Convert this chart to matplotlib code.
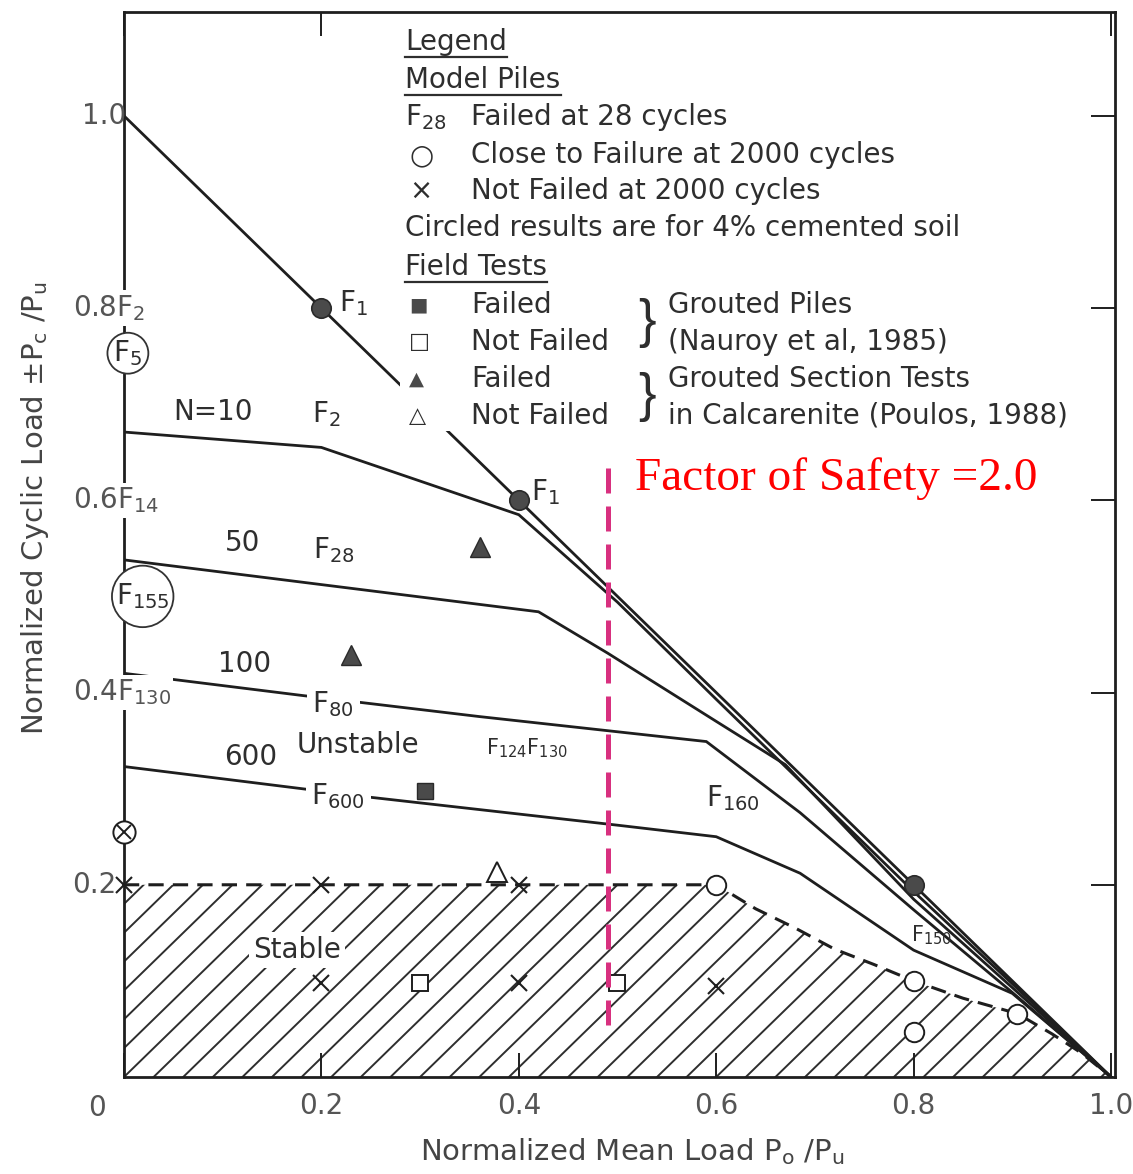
import numpy as np
import matplotlib.pyplot as plt
from matplotlib.patches import Polygon, Rectangle

plt.rcParams['font.family'] = ['DejaVu Sans']
plt.rcParams['mathtext.default'] = 'regular'

ink = '#1e1e1e'
txt = '#2e2e2e'

# normalized cyclic load Pc/Pu against normalized mean load Po/Pu
static_x = [0.0, 1.0]
static_y = [1.0, 0.0]

n10_x = [0.0, 0.20, 0.38, 0.40, 0.50, 0.60, 0.80, 0.90, 1.0]
n10_y = [0.671, 0.655, 0.592, 0.585, 0.494, 0.393, 0.193, 0.097, 0.0]

n50_x = [0.0, 0.42, 0.49, 0.60, 0.67, 0.80, 0.90, 1.0]
n50_y = [0.538, 0.484, 0.441, 0.370, 0.325, 0.185, 0.093, 0.0]

n100_x = [0.0, 0.18, 0.36, 0.59, 0.685, 0.80, 0.90, 1.0]
n100_y = [0.420, 0.397, 0.375, 0.349, 0.275, 0.174, 0.088, 0.0]

n600_x = [0.0, 0.18, 0.25, 0.50, 0.60, 0.685, 0.80, 0.90, 1.0]
n600_y = [0.323, 0.300, 0.291, 0.262, 0.250, 0.212, 0.132, 0.087, 0.0]

# boundary of the stable zone
stable_x = [0.0, 0.60, 0.64, 0.68, 0.72, 0.76, 0.80, 0.85, 0.905, 0.94, 0.97, 1.0]
stable_y = [0.20, 0.20, 0.175, 0.155, 0.133, 0.117, 0.100, 0.082, 0.066, 0.045, 0.025, 0.0]

# model piles
failed_x = [0.2, 0.4, 0.8]
failed_y = [0.8, 0.6, 0.2]
close_x = [0.6, 0.8, 0.8, 0.905]
close_y = [0.2, 0.1, 0.047, 0.066]
notfailed_x = [0.0, 0.2, 0.4, 0.2, 0.4, 0.6]
notfailed_y = [0.2, 0.2, 0.2, 0.098, 0.098, 0.095]
cemented_x = [0.0]
cemented_y = [0.255]

# field tests
grout_fail_x = [0.305]
grout_fail_y = [0.298]
grout_ok_x = [0.30, 0.50]
grout_ok_y = [0.098, 0.098]
section_fail_x = [0.361, 0.23]
section_fail_y = [0.551, 0.439]
section_ok_x = [0.378]
section_ok_y = [0.213]

fos_x = 0.49
fos_y = [0.054, 0.637]

xticks = [0.0, 0.2, 0.4, 0.6, 0.8, 1.0]
xtick_labels = ['', '0.2', '0.4', '0.6', '0.8', '1.0']
yticks = [0.2, 0.4, 0.6, 0.8, 1.0]
ytick_labels = ['0.2', '0.4F$_{130}$', '0.6F$_{14}$', '0.8F$_2$', '1.0']

fig = plt.figure(figsize=(11.33, 11.74), dpi=100)
ax = fig.add_axes([0.1094, 0.0826, 0.8747, 0.9072])
ax.set_xlim(0, 1.004)
ax.set_ylim(0, 1.108)

for s in ax.spines.values():
    s.set_linewidth(2.0)
    s.set_color(ink)

ax.set_xticks(xticks)
ax.set_xticklabels(xtick_labels)
ax.set_yticks(yticks)
ax.set_yticks([1.0], minor=True)
ax.tick_params(direction='in', length=17, width=1.4, color=ink, top=True, right=True,
               left=False, labelleft=False, labelsize=20, labelcolor='#555555', pad=11)
ax.tick_params(axis='y', which='minor', direction='in', length=17, width=1.4, color=ink,
               left=True, right=False, labelleft=False)
ax.text(-0.027, -0.016, '0', transform=ax.get_xaxis_transform(), ha='center', va='top',
        fontsize=20, color='#555555')
for v, lab in zip(yticks, ytick_labels):
    x0 = -0.042 if v == 1.0 else -0.052
    bb = None if v in (1.0, 0.2) else dict(fc='white', ec='none', pad=2)
    ax.text(x0, v, lab, ha='left', va='center', fontsize=20, color='#555555',
            bbox=bb, clip_on=False, zorder=3)

# stable zone with diagonal hatching
stab = Polygon(np.column_stack([stable_x + [1.0, 0.0], stable_y + [0.0, 0.0]]),
               closed=True, fc='none', ec='none')
ax.add_patch(stab)
for c in np.arange(-0.3, 1.0, 0.03):
    h, = ax.plot([c, c + 0.4], [0, 0.4], color='#2e2e2e', lw=1.4, zorder=1)
    h.set_clip_path(stab)
ax.plot(stable_x, stable_y, color=ink, lw=2.2, ls=(0, (5, 3)), zorder=2)

for xs, ys in [(static_x, static_y), (n10_x, n10_y), (n50_x, n50_y),
               (n100_x, n100_y), (n600_x, n600_y)]:
    ax.plot(xs, ys, color=ink, lw=2.0, zorder=2, solid_joinstyle='miter')

# legend block sits on a white panel
ax.add_patch(Rectangle((0.28, 0.672), 0.65, 0.45, fc='white', ec='none', zorder=2.5))

mk = dict(ls='none', zorder=4, clip_on=False)
ax.plot(failed_x, failed_y, marker='o', ms=14, mfc='#4a4a4a', mec='#2a2a2a', mew=1.2, **mk)
ax.plot(close_x, close_y, marker='o', ms=14, mfc='white', mec=ink, mew=1.4, **mk)
ax.plot(notfailed_x, notfailed_y, marker='x', ms=11, mec=ink, mew=1.5, **mk)
ax.plot(cemented_x, cemented_y, marker='o', ms=16, mfc='white', mec=ink, mew=1.4, **mk)
ax.plot(cemented_x, cemented_y, marker='x', ms=10, mec=ink, mew=1.4, **mk)
ax.plot(grout_fail_x, grout_fail_y, marker='s', ms=12, mfc='#4a4a4a', mec='#2a2a2a', **mk)
ax.plot(grout_ok_x, grout_ok_y, marker='s', ms=12, mfc='white', mec=ink, mew=1.4, **mk)
ax.plot(section_fail_x, section_fail_y, marker='^', ms=14, mfc='#4a4a4a', mec='#2a2a2a', **mk)
ax.plot(section_ok_x, section_ok_y, marker='^', ms=15, mfc='white', mec=ink, mew=1.4, **mk)

ax.plot([fos_x, fos_x], fos_y, color='#d8307f', lw=3.6, ls=(0, (5, 2.6)), zorder=5)
ax.text(0.518, 0.623, 'Factor of Safety =2.0', color='red', fontsize=34,
        family='Liberation Serif', ha='left', va='center', zorder=5)

# curve labels
lab = dict(fontsize=20, color=txt, ha='center', va='center')
white = dict(fc='white', ec='none', pad=4)
ax.text(0.218, 0.805, 'F$_1$', ha='left', va='center', fontsize=20, color=txt)
ax.text(0.412, 0.608, 'F$_1$', ha='left', va='center', fontsize=20, color=txt)
ax.text(0.09, 0.692, 'N=10', **lab)
ax.text(0.205, 0.690, 'F$_2$', **lab)
ax.text(0.12, 0.556, '50', **lab)
ax.text(0.213, 0.548, 'F$_{28}$', **lab)
ax.text(0.122, 0.430, '100', **lab)
ax.text(0.212, 0.388, 'F$_{80}$', bbox=white, zorder=3, **lab)
ax.text(0.128, 0.333, '600', **lab)
ax.text(0.237, 0.345, 'Unstable', **lab)
ax.text(0.217, 0.292, 'F$_{600}$', bbox=white, zorder=3, **lab)
ax.text(0.408, 0.342, 'F$_{124}$F$_{130}$', fontsize=15, color=txt, ha='center', va='center')
ax.text(0.617, 0.290, 'F$_{160}$', **lab)
ax.text(0.818, 0.148, 'F$_{150}$', fontsize=15, color=txt, ha='center', va='center', zorder=3)
ax.text(0.175, 0.132, 'Stable', bbox=dict(fc='white', ec='none', pad=3), zorder=3, **lab)

ax.text(0.004, 0.753, 'F$_5$', fontsize=20, color=txt, ha='center', va='center', zorder=3,
        bbox=dict(boxstyle='circle,pad=0.2', fc='white', ec='#333333', lw=1.3))
ax.text(0.019, 0.500, 'F$_{155}$', fontsize=20, color=txt, ha='center', va='center', zorder=3,
        bbox=dict(boxstyle='circle,pad=0.14', fc='white', ec='#333333', lw=1.3))

# legend text
lx, tx, bx, rx = 0.285, 0.352, 0.521, 0.551
leg = dict(fontsize=20, color=txt, va='center', zorder=3)
heads = [ax.text(lx, 1.077, 'Legend', **leg),
         ax.text(lx, 1.037, 'Model Piles', **leg),
         ax.text(lx, 0.843, 'Field Tests', **leg)]
ax.text(lx, 0.999, 'F$_{28}$', **leg)
ax.text(tx, 0.999, 'Failed at 28 cycles', **leg)
ax.text(lx + 0.004, 0.959, '○', **leg)
ax.text(tx, 0.959, 'Close to Failure at 2000 cycles', **leg)
ax.text(lx + 0.004, 0.922, '×', **leg)
ax.text(tx, 0.922, 'Not Failed at 2000 cycles', **leg)
ax.text(lx, 0.883, 'Circled results are for 4% cemented soil', **leg)
ax.text(lx + 0.004, 0.803, '■', fontsize=14, color='#4a4a4a', va='center', zorder=3)
ax.text(tx, 0.803, 'Failed', **leg)
ax.text(lx + 0.004, 0.765, '□', fontsize=16, color=txt, va='center', zorder=3)
ax.text(tx, 0.765, 'Not Failed', **leg)
ax.text(lx + 0.004, 0.726, '▲', fontsize=14, color='#4a4a4a', va='center', zorder=3)
ax.text(tx, 0.726, 'Failed', **leg)
ax.text(lx + 0.004, 0.688, '△', fontsize=16, color=txt, va='center', zorder=3)
ax.text(tx, 0.688, 'Not Failed', **leg)
for yb in (0.784, 0.707):
    ax.text(bx, yb, '}', fontsize=38, color=txt, va='center', ha='left', zorder=3,
            family='Liberation Sans')
ax.text(rx, 0.803, 'Grouted Piles', **leg)
ax.text(rx, 0.765, '(Nauroy et al, 1985)', **leg)
ax.text(rx, 0.726, 'Grouted Section Tests', **leg)
ax.text(rx, 0.688, 'in Calcarenite (Poulos, 1988)', **leg)

ax.text(0.513, -0.070, 'Normalized Mean Load P$_o$ /P$_u$', transform=ax.transAxes,
        fontsize=21, color='#444444', ha='center', va='center')
ax.text(-0.090, 0.534, 'Normalized Cyclic Load ±P$_c$ /P$_u$', transform=ax.transAxes,
        fontsize=21, color='#444444', ha='center', va='center', rotation=90)

# underline the legend headings
fig.canvas.draw()
inv = ax.transData.inverted()
for t in heads:
    bb = t.get_window_extent()
    (x0, y0), (x1, _) = inv.transform([[bb.x0, bb.y0 - 1], [bb.x1, bb.y1]])
    ax.plot([x0, x1], [y0, y0], color=txt, lw=1.6, zorder=3, clip_on=False)

fig.savefig('out.png', dpi=100)
